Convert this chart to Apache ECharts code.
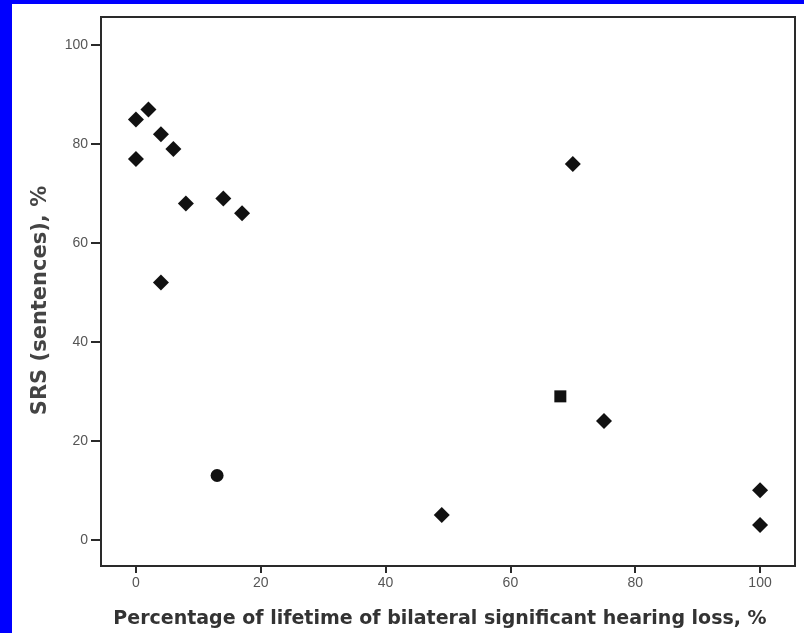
<!DOCTYPE html>
<html>
<head>
<meta charset="utf-8">
<script src="https://cdn.jsdelivr.net/npm/echarts@6/dist/echarts.min.js"></script>
<style>
  html, body { margin: 0; padding: 0; background: #0000ff; }
  #wrap { position: absolute; left: 12px; top: 4px; width: 792px; height: 629px; background: #ffffff; overflow: visible; }
  #chart { position: absolute; left: -12px; top: -4px; width: 804px; height: 633px; }
</style>
</head>
<body>
<div id="wrap"><div id="chart"></div></div>
<script>
// Percentage of lifetime with bilateral significant hearing loss vs. sentence recognition score
const lifetimeLoss = [0, 2, 0, 4, 6, 8, 4, 14, 17, 13, 49, 70, 68, 75, 100, 100];
const srsSentences = [85, 87, 77, 82, 79, 68, 52, 69, 66, 13, 5, 76, 29, 24, 10, 3];
const markerShape = ['diamond', 'diamond', 'diamond', 'diamond', 'diamond', 'diamond', 'diamond',
  'diamond', 'diamond', 'circle', 'diamond', 'diamond', 'rect', 'diamond', 'diamond', 'diamond'];
const xTicks = [0, 20, 40, 60, 80, 100];
const yTicks = [0, 20, 40, 60, 80, 100];

const points = lifetimeLoss.map((x, i) => ({
  value: [x, srsSentences[i]],
  symbol: markerShape[i],
  symbolSize: markerShape[i] === 'diamond' ? 16 : (markerShape[i] === 'rect' ? 12 : 13)
}));

const chart = echarts.init(document.getElementById('chart'), null, { renderer: 'canvas' });
chart.setOption({
  backgroundColor: 'transparent',
  animation: false,
  grid: {
    left: 101, top: 17, right: 9, bottom: 67,
    outerBoundsMode: 'none', containLabel: false,
    show: true, borderColor: '#2a2a2a', borderWidth: 2, backgroundColor: '#ffffff'
  },
  xAxis: {
    type: 'value', min: -5.6, max: 105.6,
    name: 'Percentage of lifetime of bilateral significant hearing loss, %',
    nameLocation: 'middle', nameGap: 44,
    nameTextStyle: { fontFamily: 'DejaVu Sans', fontSize: 19, fontWeight: 'bold', color: '#333333', padding: [0, 16, 0, 0] },
    axisLine: { show: true, onZero: false, lineStyle: { color: '#2a2a2a', width: 2 } },
    axisTick: { show: true, customValues: xTicks, length: 7, lineStyle: { color: '#2a2a2a', width: 2 } },
    axisLabel: { customValues: xTicks, margin: 10, fontFamily: 'Liberation Sans', fontSize: 14, color: '#555555' },
    splitLine: { show: false }
  },
  yAxis: {
    type: 'value', min: -5.3, max: 105.7,
    name: 'SRS (sentences), %',
    nameLocation: 'middle', nameGap: 50, nameRotate: 90,
    nameTextStyle: { fontFamily: 'DejaVu Sans', fontSize: 21, fontWeight: 'bold', color: '#444444', padding: [0, 18, 0, 0] },
    axisLine: { show: true, onZero: false, lineStyle: { color: '#2a2a2a', width: 2 } },
    axisTick: { show: true, customValues: yTicks, length: 10, lineStyle: { color: '#2a2a2a', width: 2 } },
    axisLabel: { customValues: yTicks, margin: 13, fontFamily: 'Liberation Sans', fontSize: 14, color: '#555555' },
    splitLine: { show: false }
  },
  series: [{
    type: 'scatter',
    data: points,
    itemStyle: { color: '#111111', opacity: 1 }
  }]
});
</script>
</body>
</html>
